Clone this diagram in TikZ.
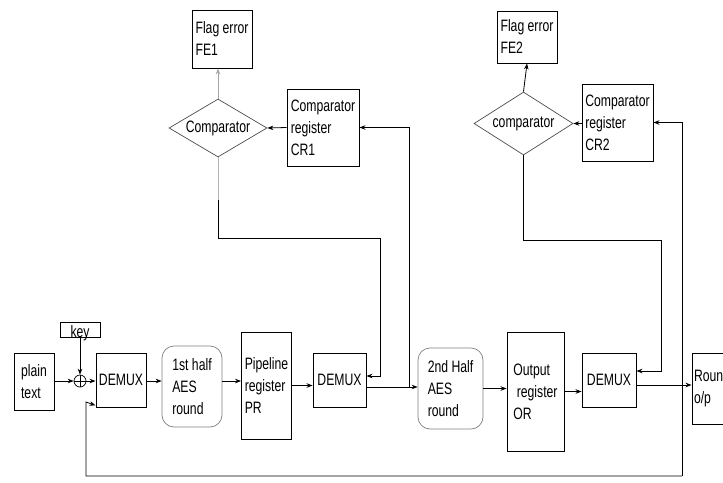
\documentclass[tikz,border=0pt]{standalone}
\usepackage{fontspec}
\setmainfont{Liberation Sans}[FakeStretch=0.74]
\usetikzlibrary{shapes.geometric,arrows.meta}
\begin{document}
\begin{tikzpicture}[x=1pt,y=-1pt,
  font=\fontsize{16.5}{22}\selectfont,
  box/.style={draw=black,line width=0.9pt,align=left,inner sep=1pt},
  aesbox/.style={draw=gray,line width=0.7pt,rounded corners=12pt,align=left,inner sep=1pt},
  cmpbox/.style={draw=gray!60!black,line width=0.7pt,diamond,inner sep=0pt,aspect=1.7},
  arr/.style={-{Stealth[length=6pt,width=4.5pt]},line width=0.8pt},
  garr/.style={arr,draw=gray!70}
]
\useasboundingbox (0,0) rectangle (723,482);
\clip (0,0) rectangle (723,482);
% bottom row
\node[box,minimum width=40pt,minimum height=57pt] (plain) at (34,381.5) {plain\\text};
\node[box,minimum width=40pt,minimum height=15pt,inner ysep=0pt,text height=15pt,text depth=0pt] (key) at (80,329.5) {key};
\node[draw,circle,minimum size=12pt,inner sep=0pt,line width=0.7pt] (xor) at (80,381) {};
\draw[line width=0.7pt] (xor.north) -- (xor.south) (xor.west) -- (xor.east);
\node[box,minimum width=50pt,minimum height=54pt] (demux1) at (121,380) {DEMUX};
\node[aesbox,minimum width=60pt,minimum height=81pt] (aes1) at (192,386.5) {1st half\\AES\\round};
\node[box,minimum width=50pt,minimum height=107pt] (pr) at (266.5,385.5) {Pipeline\\register\\PR};
\node[box,minimum width=53pt,minimum height=54pt] (demux2) at (339.5,380) {DEMUX};
\node[aesbox,minimum width=65pt,minimum height=81pt] (aes2) at (450.5,388.5) {2nd Half\\AES\\round};
\node[box,minimum width=57pt,minimum height=119pt] (or) at (535.5,391.5) {Output\\\ register\\OR};
\node[box,minimum width=54pt,minimum height=54pt] (demux3) at (609,380) {DEMUX};
\node[box,minimum width=60pt,minimum height=71pt,text width=56pt,inner xsep=2pt] (round) at (722,388.5) {Round\\o/p};
% top
\node[box,minimum width=60pt,minimum height=58pt] (fe1) at (222,39) {Flag error\\FE1};
\node[cmpbox,minimum width=98pt,minimum height=58pt] (cmp1) at (218,128) {Comparator};
\node[box,minimum width=72pt,minimum height=77pt] (cr1) at (323,127.5) {Comparator\\register\\CR1};
\node[box,minimum width=60pt,minimum height=52pt] (fe2) at (527,37) {Flag error\\FE2};
\node[cmpbox,minimum width=99pt,minimum height=63pt] (cmp2) at (523.5,123.5) {comparator};
\node[box,minimum width=71pt,minimum height=77pt] (cr2) at (617.5,122.5) {Comparator\\register\\CR2};
% coordinates
\coordinate (fbR) at (682,476);
\coordinate (fbL) at (86,476);
\coordinate (fbU) at (86,402);
\coordinate (j1) at (409,387);
\coordinate (c1a) at (218,200);
\coordinate (c1) at (380,238);
\coordinate (c2) at (661,240);
% connectors bottom
\draw[arr] (plain.east |- xor.west) -- (xor.west);
\draw[arr] (key.south) -- (xor.north);
\draw[arr] (xor.east) -- (xor.east -| demux1.west);
\draw[arr] (demux1.east |- xor.east) -- (xor.east -| aes1.west);
\draw[arr] (aes1.east |- xor.east) -- (xor.east -| pr.west);
\draw[arr] (pr.east) -- (pr.east -| demux2.west);
\draw[arr] ([yshift=-7pt]demux2.east) -- ([yshift=-7pt]demux2.east -| aes2.west);
\draw[arr] (aes2.east) -- (aes2.east -| or.west);
\draw[arr] (or.east) -- (or.east -| demux3.west);
\draw[arr] ([yshift=-5pt]demux3.east) -- ([yshift=-5pt]demux3.east -| round.west);
% feedback
\draw[arr] (fbR) |- (cr2.east);
\draw[arr] (fbR) -- (fbL) -- (fbU) -- ([yshift=2pt]demux1.south west);
% comparator loops
\draw[arr] (j1) |- (cr1.east);
\draw[line width=0.8pt,draw=gray!60] (cmp1.south) -- (c1a);
\draw[arr] (c1a) |- (c1) |- ([yshift=4pt]demux2.east);
\draw[arr] (cmp2.south) |- (c2) |- ([yshift=9pt]demux3.east);
\draw[arr] (cr1.west) -- (cmp1.east);
\draw[arr] (cr2.west |- cmp2.east) -- (cmp2.east);
\draw[garr] (cmp1.north) -- (cmp1.north |- fe1.south);
\draw[arr] (cmp2.north) -- (fe2.south);
\end{tikzpicture}
\end{document}
